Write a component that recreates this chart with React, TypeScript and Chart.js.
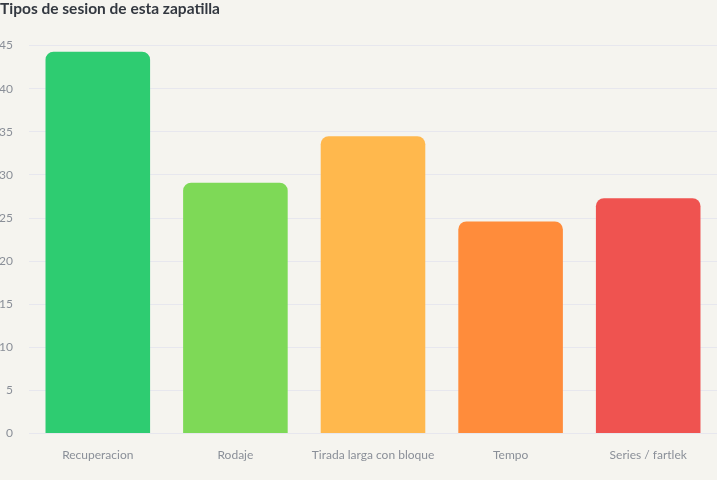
import { useEffect, useRef } from 'react';
import Chart from 'chart.js/auto';

const categories = ['Recuperacion', 'Rodaje', 'Tirada larga con bloque', 'Tempo', 'Series / fartlek'];
const sessions = [44.3, 29.1, 34.5, 24.6, 27.3];
const barColors = ['#2ecc71', '#7ed957', '#ffb84d', '#ff8c3b', '#ef5350'];

export default function App() {
  const chartRef = useRef<Chart | null>(null);
  const canvasRef = useRef<HTMLCanvasElement | null>(null);

  useEffect(() => {
    document.body.style.margin = '0';
    document.body.style.background = '#f5f4ef';

    if (chartRef.current) {
      chartRef.current.destroy();
    }

    const ctx = canvasRef.current?.getContext('2d');
    if (ctx) {
      chartRef.current = new Chart(ctx, {
        type: 'bar',
        data: {
          labels: categories,
          datasets: [{
            label: 'sesiones',
            backgroundColor: barColors,
            data: sessions,
            borderRadius: 8,
            barPercentage: 0.95,
            categoryPercentage: 0.8
          }]
        },
        options: {
          responsive: true,
          maintainAspectRatio: false,
          animation: false,
          layout: { padding: { left: 0, right: 0, top: 0, bottom: 12 } },
          plugins: {
            legend: { display: false },
            tooltip: { enabled: false },
            title: {
              display: true,
              text: 'Tipos de sesion de esta zapatilla',
              align: 'start',
              color: '#333840',
              font: { family: 'Lato', size: 15.5, weight: 'bold' },
              padding: { top: 0, bottom: 27 }
            }
          },
          scales: {
            x: {
              grid: { display: false },
              border: { display: false },
              ticks: {
                color: '#8a8f98',
                font: { family: 'Lato', size: 12 },
                padding: 6
              }
            },
            y: {
              beginAtZero: true,
              grid: { color: '#e7e7ee', drawTicks: false },
              border: { display: false },
              afterFit: (scale) => { scale.width = 29; },
              ticks: {
                stepSize: 5,
                color: '#8a8f98',
                font: { family: 'Lato', size: 12 },
                padding: 16
              }
            }
          }
        }
      });
    }

    return () => {
      if (chartRef.current) {
        chartRef.current.destroy();
        chartRef.current = null;
      }
    };
  }, []);

  return (
    <div style={{ width: 717, height: 480, position: 'relative' }}>
      <canvas ref={canvasRef}></canvas>
    </div>
  );
}
